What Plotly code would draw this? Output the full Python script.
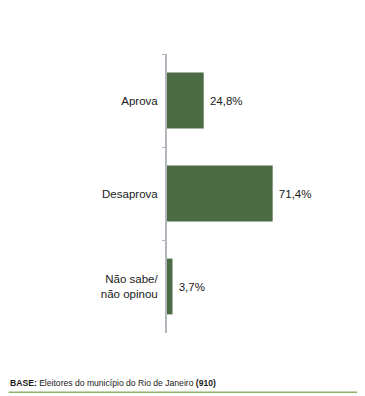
import plotly.graph_objects as go

categories = ["Aprova", "Desaprova", "Não sabe/<br>não opinou"]
values = [24.8, 71.4, 3.7]

# The page body has an 8px margin, so the figure is drawn 8px in from the top-left.
OFF = 8
W, H = 365 - OFF, 396 - OFF
L, T = 167 - OFF, 54 - OFF
pw = 148.5
ph = 332.7 - 54
R = W - L - pw
B = H - T - ph

def px_x(page_x):
    return (page_x - OFF - L) / pw

def px_y(page_y):
    return (H - B - (page_y - OFF)) / ph

FONT = "Liberation Sans, Arial"

fig = go.Figure(go.Bar(
    x=values, y=categories, orientation="h",
    marker=dict(color="#4b6b42", line=dict(width=0)),
    text=values, texttemplate=" %{x:.1f}%", textposition="outside",
    textfont=dict(family=FONT, size=11.5, color="#1a1a1a"),
    cliponaxis=False,
))

fig.update_layout(
    width=W, height=H,
    margin=dict(l=L, r=R, t=T, b=B),
    paper_bgcolor="white", plot_bgcolor="white",
    separators=",.",
    bargap=0.4,
    showlegend=False,
    font=dict(family=FONT, size=11.5, color="#1a1a1a"),
    xaxis=dict(range=[0, 100], visible=False, fixedrange=True),
    yaxis=dict(
        autorange="reversed", showline=True, linecolor="#b4b6bd", linewidth=2,
        ticks="outside", tickson="boundaries", ticklen=3, tickcolor="#b4b6bd",
        tickwidth=1, showgrid=False, zeroline=False,
        tickfont=dict(family=FONT, size=11.5, color="#1a1a1a"),
        ticklabelstandoff=5,
    ),
    annotations=[dict(
        xref="paper", yref="paper", x=px_x(7), y=px_y(383),
        xanchor="left", yanchor="middle", showarrow=False,
        text="<b>BASE:</b> Eleitores do município do Rio de Janeiro <b>(910)</b>",
        font=dict(family=FONT, size=8.6, color="#1a1a1a"),
    )],
    shapes=[dict(
        type="line", xref="paper", yref="paper",
        x0=px_x(OFF), x1=px_x(365), y0=px_y(392), y1=px_y(392),
        line=dict(color="#8db06b", width=1.5),
    )],
)

fig.write_html("out.html")
